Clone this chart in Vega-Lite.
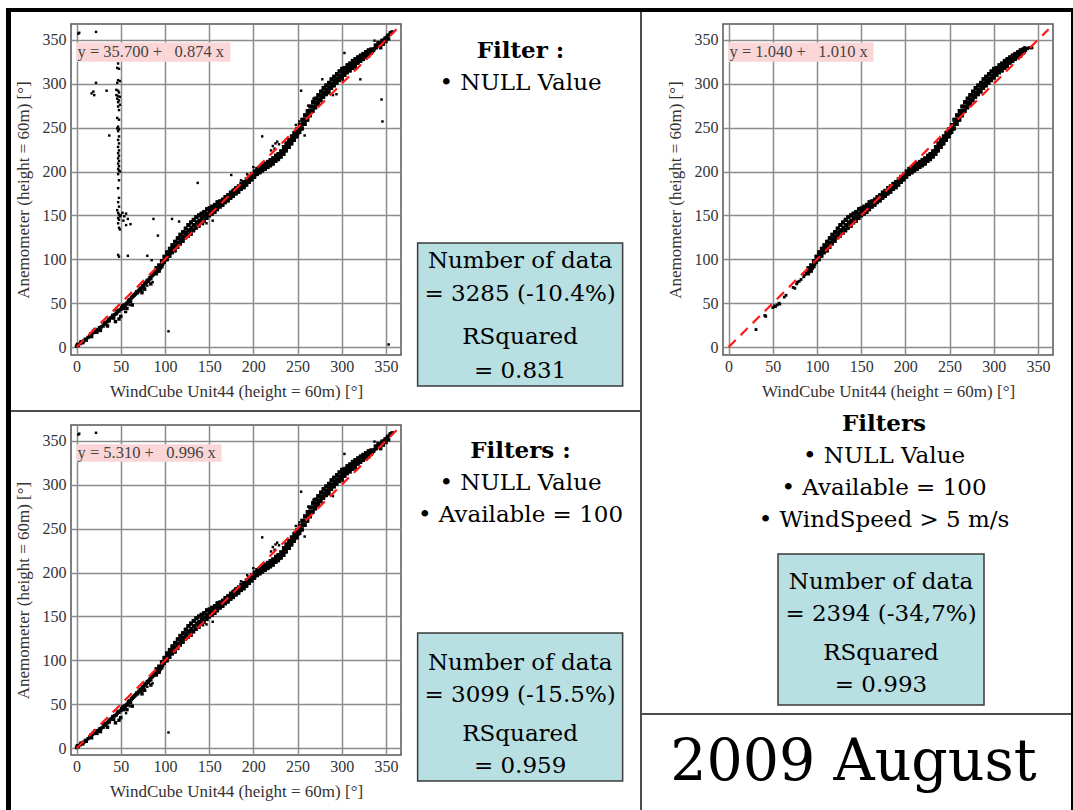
{
"$schema": "https://vega.github.io/schema/vega-lite/v6.json",
"padding": {"left": 6, "top": 8, "right": 0, "bottom": 0},
"background": "white",
"config": {
  "view": {"stroke": null},
  "concat": {"spacing": 0},
  "axis": {"labelFont": "Liberation Serif", "labelFontSize": 16, "labelColor": "#333333", "titleFont": "Liberation Serif", "titleFontSize": 17, "titleFontWeight": "normal", "titleColor": "#333333", "gridColor": "#8c8c8c", "gridWidth": 1.5, "gridOpacity": 1, "ticks": false, "domain": false, "labelFlush": false, "labelOverlap": false},
  "text": {"font": "DejaVu Serif", "color": "#000000"}
},
"datasets": {
  "diag": [{"x":0,"y":0},{"x":362,"y":362}],
  "band": [{"x":90,"y":84},{"x":91,"y":87},{"x":90.5,"y":90},{"x":93,"y":87},{"x":94,"y":90},{"x":93.5,"y":93},{"x":96,"y":92},{"x":97,"y":95},{"x":96.5,"y":98},{"x":99,"y":97},{"x":100,"y":100},{"x":99.5,"y":103},{"x":102,"y":100},{"x":103,"y":104},{"x":102.5,"y":108},{"x":105,"y":104},{"x":106,"y":108},{"x":105.5,"y":112},{"x":108,"y":108},{"x":109,"y":112},{"x":108.5,"y":116},{"x":111,"y":110},{"x":112,"y":115},{"x":111.5,"y":120},{"x":114,"y":114},{"x":115,"y":119},{"x":114.5,"y":124},{"x":117,"y":118},{"x":118,"y":123},{"x":117.5,"y":128},{"x":120,"y":121},{"x":121,"y":126},{"x":120.5,"y":131},{"x":123,"y":125},{"x":124,"y":130},{"x":123.5,"y":135},{"x":126,"y":127},{"x":127,"y":133},{"x":126.5,"y":139},{"x":129,"y":130},{"x":130,"y":136},{"x":129.5,"y":142},{"x":132,"y":133},{"x":133,"y":139},{"x":132.5,"y":145},{"x":135,"y":136},{"x":136,"y":142},{"x":135.5,"y":148},{"x":138,"y":138},{"x":139,"y":144},{"x":138.5,"y":150},{"x":141,"y":142},{"x":142,"y":147},{"x":141.5,"y":152},{"x":144,"y":144},{"x":145,"y":149},{"x":144.5,"y":154},{"x":147,"y":147},{"x":148,"y":152},{"x":147.5,"y":157},{"x":150,"y":150},{"x":151,"y":154},{"x":150.5,"y":158},{"x":153,"y":152},{"x":154,"y":156},{"x":153.5,"y":160},{"x":156,"y":154},{"x":157,"y":158},{"x":156.5,"y":162},{"x":159,"y":157},{"x":160,"y":161},{"x":159.5,"y":165},{"x":162,"y":160},{"x":163,"y":163},{"x":162.5,"y":166},{"x":165,"y":162},{"x":166,"y":165},{"x":165.5,"y":168},{"x":168,"y":165},{"x":169,"y":168},{"x":168.5,"y":171},{"x":171,"y":167},{"x":172,"y":170},{"x":171.5,"y":173},{"x":174,"y":170},{"x":175,"y":173},{"x":174.5,"y":176},{"x":177,"y":172},{"x":178,"y":175},{"x":177.5,"y":178},{"x":180,"y":175},{"x":181,"y":178},{"x":180.5,"y":181},{"x":183,"y":177},{"x":184,"y":180},{"x":183.5,"y":183},{"x":186,"y":180},{"x":187,"y":183},{"x":186.5,"y":186},{"x":189,"y":182},{"x":190,"y":185},{"x":189.5,"y":188},{"x":192,"y":185},{"x":193,"y":188},{"x":192.5,"y":191},{"x":195,"y":188},{"x":196,"y":191},{"x":195.5,"y":194},{"x":198,"y":191},{"x":199,"y":194},{"x":198.5,"y":197},{"x":201,"y":194},{"x":202,"y":197},{"x":201.5,"y":200},{"x":204,"y":197},{"x":205,"y":200},{"x":204.5,"y":203},{"x":207,"y":199},{"x":208,"y":202},{"x":207.5,"y":205},{"x":210,"y":201},{"x":211,"y":204},{"x":210.5,"y":207},{"x":213,"y":203},{"x":214,"y":206},{"x":213.5,"y":209},{"x":216,"y":205},{"x":217,"y":208},{"x":216.5,"y":211},{"x":219,"y":207},{"x":220,"y":210},{"x":219.5,"y":213},{"x":222,"y":209},{"x":223,"y":212},{"x":222.5,"y":215},{"x":225,"y":212},{"x":226,"y":215},{"x":225.5,"y":218},{"x":228,"y":214},{"x":229,"y":217},{"x":228.5,"y":220},{"x":231,"y":217},{"x":232,"y":220},{"x":231.5,"y":223},{"x":234,"y":220},{"x":235,"y":224},{"x":234.5,"y":228},{"x":237,"y":224},{"x":238,"y":228},{"x":237.5,"y":232},{"x":240,"y":228},{"x":241,"y":232},{"x":240.5,"y":236},{"x":243,"y":232},{"x":244,"y":236},{"x":243.5,"y":240},{"x":246,"y":236},{"x":247,"y":240},{"x":246.5,"y":244},{"x":249,"y":240},{"x":250,"y":244},{"x":249.5,"y":248},{"x":252,"y":245},{"x":253,"y":249},{"x":252.5,"y":253},{"x":255,"y":249},{"x":256,"y":254},{"x":255.5,"y":259},{"x":258,"y":254},{"x":259,"y":259},{"x":258.5,"y":264},{"x":261,"y":259},{"x":262,"y":264},{"x":261.5,"y":269},{"x":264,"y":264},{"x":265,"y":269},{"x":264.5,"y":274},{"x":267,"y":269},{"x":268,"y":274},{"x":267.5,"y":279},{"x":270,"y":273},{"x":271,"y":278},{"x":270.5,"y":283},{"x":273,"y":277},{"x":274,"y":282},{"x":273.5,"y":287},{"x":276,"y":281},{"x":277,"y":286},{"x":276.5,"y":291},{"x":279,"y":285},{"x":280,"y":290},{"x":279.5,"y":295},{"x":282,"y":288},{"x":283,"y":293},{"x":282.5,"y":298},{"x":285,"y":291},{"x":286,"y":296},{"x":285.5,"y":301},{"x":288,"y":295},{"x":289,"y":300},{"x":288.5,"y":305},{"x":291,"y":298},{"x":292,"y":303},{"x":291.5,"y":308},{"x":294,"y":301},{"x":295,"y":306},{"x":294.5,"y":311},{"x":297,"y":304},{"x":298,"y":309},{"x":297.5,"y":314},{"x":300,"y":307},{"x":301,"y":312},{"x":300.5,"y":317},{"x":303,"y":310},{"x":304,"y":314},{"x":303.5,"y":318},{"x":306,"y":313},{"x":307,"y":317},{"x":306.5,"y":321},{"x":309,"y":315},{"x":310,"y":319},{"x":309.5,"y":323},{"x":312,"y":318},{"x":313,"y":322},{"x":312.5,"y":326},{"x":315,"y":320},{"x":316,"y":324},{"x":315.5,"y":328},{"x":318,"y":324},{"x":319,"y":327},{"x":318.5,"y":330},{"x":321,"y":326},{"x":322,"y":329},{"x":321.5,"y":332},{"x":324,"y":328},{"x":325,"y":331},{"x":324.5,"y":334},{"x":327,"y":330},{"x":328,"y":333},{"x":327.5,"y":336},{"x":330,"y":332},{"x":331,"y":335},{"x":330.5,"y":338},{"x":333,"y":335},{"x":334,"y":337},{"x":333.5,"y":339}],
  "lowAB": [{"x":0,"y":1},{"x":1,"y":3},{"x":2,"y":2},{"x":4,"y":4},{"x":5,"y":6},{"x":7,"y":5},{"x":8,"y":7},{"x":10,"y":9},{"x":11,"y":8},{"x":13,"y":11},{"x":15,"y":13},{"x":16,"y":15},{"x":17,"y":12},{"x":18,"y":16},{"x":19,"y":18},{"x":20,"y":17},{"x":21,"y":20},{"x":22,"y":19},{"x":23,"y":17},{"x":25,"y":20},{"x":26,"y":22},{"x":27,"y":19},{"x":28,"y":23},{"x":30,"y":24},{"x":31,"y":26},{"x":32,"y":28},{"x":33,"y":27},{"x":35,"y":29},{"x":36,"y":31},{"x":37,"y":30},{"x":38,"y":33},{"x":40,"y":34},{"x":41,"y":36},{"x":42,"y":33},{"x":43,"y":37},{"x":45,"y":38},{"x":46,"y":40},{"x":47,"y":42},{"x":48,"y":41},{"x":50,"y":43},{"x":51,"y":45},{"x":52,"y":47},{"x":53,"y":44},{"x":54,"y":48},{"x":55,"y":46},{"x":56,"y":49},{"x":57,"y":50},{"x":58,"y":51},{"x":59,"y":53},{"x":60,"y":54},{"x":61,"y":52},{"x":62,"y":56},{"x":63,"y":57},{"x":64,"y":58},{"x":65,"y":59},{"x":66,"y":60},{"x":67,"y":61},{"x":68,"y":63},{"x":69,"y":62},{"x":70,"y":64},{"x":71,"y":65},{"x":72,"y":67},{"x":73,"y":66},{"x":74,"y":68},{"x":75,"y":70},{"x":76,"y":69},{"x":77,"y":72},{"x":78,"y":73},{"x":79,"y":74},{"x":80,"y":76},{"x":81,"y":75},{"x":82,"y":77},{"x":83,"y":79},{"x":84,"y":78},{"x":85,"y":81},{"x":86,"y":82},{"x":87,"y":83},{"x":88,"y":85},{"x":89,"y":86},{"x":44,"y":29},{"x":48,"y":32},{"x":50,"y":35},{"x":57,"y":44},{"x":74,"y":62},{"x":77,"y":66},{"x":84,"y":72},{"x":63,"y":48},{"x":35,"y":24}],
  "highAB": [{"x":336,"y":338},{"x":337,"y":340},{"x":339,"y":341},{"x":340,"y":343},{"x":342,"y":344},{"x":343,"y":346},{"x":345,"y":347},{"x":346,"y":349},{"x":348,"y":350},{"x":349,"y":352},{"x":351,"y":353},{"x":352,"y":355},{"x":354,"y":356},{"x":355,"y":358},{"x":357,"y":359},{"x":344,"y":341},{"x":347,"y":345},{"x":350,"y":348},{"x":338,"y":344},{"x":341,"y":347},{"x":353,"y":351}],
  "outAB": [{"x":2,"y":357},{"x":3,"y":358},{"x":22,"y":359},{"x":104,"y":18},{"x":303,"y":335},{"x":254,"y":292},{"x":301,"y":304},{"x":290,"y":287},{"x":258,"y":241},{"x":210,"y":240},{"x":154,"y":144},{"x":86,"y":74},{"x":220,"y":224},{"x":222,"y":229},{"x":225,"y":232},{"x":227,"y":234},{"x":229,"y":231},{"x":224,"y":226},{"x":200,"y":205},{"x":193,"y":197},{"x":147,"y":141},{"x":143,"y":140},{"x":130,"y":128},{"x":128,"y":140},{"x":262,"y":275},{"x":268,"y":283},{"x":273,"y":278},{"x":285,"y":289},{"x":308,"y":322},{"x":316,"y":317},{"x":337,"y":349},{"x":345,"y":350},{"x":56,"y":40},{"x":60,"y":48},{"x":80,"y":70},{"x":17,"y":13},{"x":252,"y":257},{"x":248,"y":253},{"x":241,"y":227},{"x":186,"y":190},{"x":178,"y":180}],
  "outA": [{"x":47,"y":323},{"x":46,"y":318},{"x":48,"y":317},{"x":47,"y":304},{"x":49,"y":303},{"x":46,"y":301},{"x":45,"y":293},{"x":47,"y":292},{"x":48,"y":290},{"x":45,"y":287},{"x":47,"y":286},{"x":49,"y":285},{"x":46,"y":283},{"x":48,"y":281},{"x":47,"y":279},{"x":49,"y":276},{"x":47,"y":274},{"x":48,"y":270},{"x":46,"y":261},{"x":48,"y":259},{"x":47,"y":251},{"x":46,"y":249},{"x":48,"y":248},{"x":47,"y":246},{"x":48,"y":240},{"x":47,"y":236},{"x":48,"y":232},{"x":47,"y":228},{"x":48,"y":224},{"x":47,"y":221},{"x":48,"y":218},{"x":47,"y":215},{"x":48,"y":212},{"x":47,"y":209},{"x":48,"y":206},{"x":47,"y":203},{"x":48,"y":201},{"x":49,"y":200},{"x":47,"y":197},{"x":48,"y":190},{"x":47,"y":181},{"x":48,"y":170},{"x":47,"y":165},{"x":48,"y":160},{"x":46,"y":156},{"x":47,"y":153},{"x":48,"y":151},{"x":49,"y":149},{"x":47,"y":147},{"x":48,"y":145},{"x":50,"y":150},{"x":52,"y":153},{"x":54,"y":149},{"x":56,"y":152},{"x":58,"y":146},{"x":53,"y":144},{"x":47,"y":141},{"x":48,"y":136},{"x":49,"y":134},{"x":47,"y":105},{"x":48,"y":103},{"x":58,"y":104},{"x":61,"y":140},{"x":56,"y":139},{"x":19,"y":291},{"x":17,"y":289},{"x":20,"y":287},{"x":34,"y":292},{"x":22,"y":301},{"x":37,"y":241},{"x":80,"y":104},{"x":85,"y":99},{"x":87,"y":146},{"x":92,"y":127},{"x":108,"y":146},{"x":116,"y":143},{"x":137,"y":187},{"x":175,"y":196},{"x":345,"y":282},{"x":346,"y":257},{"x":353,"y":3},{"x":321,"y":305},{"x":294,"y":288},{"x":278,"y":305},{"x":43,"y":42},{"x":55,"y":40}],
  "lowC": [{"x":31,"y":20},{"x":41,"y":36},{"x":42,"y":35},{"x":50,"y":45},{"x":52,"y":47},{"x":53,"y":46},{"x":55,"y":48},{"x":57,"y":50},{"x":58,"y":49},{"x":63,"y":57},{"x":65,"y":59},{"x":73,"y":68},{"x":75,"y":67},{"x":77,"y":72},{"x":78,"y":74},{"x":80,"y":75},{"x":82,"y":77},{"x":85,"y":80},{"x":86,"y":82},{"x":88,"y":84}],
  "highC": [{"x":336,"y":338},{"x":338,"y":340},{"x":340,"y":341},{"x":343,"y":341},{"x":335,"y":341}]
},
"spacing": 0,
"vconcat": [
  {"width": 1067, "height": 4, "data": {"values": []}, "mark": "text", "view": {"fill": "#000000", "stroke": null}},
  {"spacing": 0, "hconcat": [
    {"width": 5, "height": 798, "data": {"values": []}, "mark": "text", "view": {"fill": "#000000", "stroke": null}},
    {"spacing": 0, "vconcat": [
      {"spacing": 0, "hconcat": [
        {"width": 1.8, "height": 398, "data": {"values": []}, "mark": "text"},
        {"spacing": 0, "vconcat": [
          {"width": 1, "height": 11, "data": {"values": []}, "mark": "text"},
          {"width": 330, "height": 331,
           "view": {"stroke": "#555555", "strokeWidth": 1.5},
           "layer": [
             {"data": {"name": "band"}, "mark": {"type": "square", "size": 15, "color": "#000000", "opacity": 1},
              "encoding": {
                "x": {"field": "x", "type": "quantitative", "scale": {"domain": [-6.3, 367], "nice": false, "zero": false}, "axis": {"title": "WindCube Unit44 (height = 60m) [°]", "values": [0,50,100,150,200,250,300,350], "grid": true, "labelPadding": 3, "titlePadding": 9}},
                "y": {"field": "y", "type": "quantitative", "scale": {"domain": [-9, 368], "nice": false, "zero": false}, "axis": {"title": "Anemometer (height = 60m) [°]", "values": [0,50,100,150,200,250,300,350], "grid": true, "labelPadding": 5, "titlePadding": 10}}
              }},
             {"data": {"values": [{}]}, "mark": {"type": "rect", "color": "#fbd6d7"}, "encoding": {"x": {"datum": 0, "type": "quantitative"}, "x2": {"datum": 174}, "y": {"datum": 325, "type": "quantitative"}, "y2": {"datum": 347}}},
             {"data": {"values": [{}]}, "mark": {"type": "text", "text": "y = 35.700 +\u00a0\u00a0 0.874 x", "font": "Liberation Serif", "fontSize": 16.5, "color": "#444444", "align": "left", "baseline": "middle", "dx": 1}, "encoding": {"x": {"datum": 0, "type": "quantitative"}, "y": {"datum": 336, "type": "quantitative"}}},
             {"data": {"name": "band"}, "mark": {"type": "square", "size": 15, "color": "#000000", "opacity": 1}, "encoding": {"x": {"field": "x", "type": "quantitative"}, "y": {"field": "y", "type": "quantitative"}}},
             {"data": {"name": "lowAB"}, "mark": {"type": "square", "size": 12, "color": "#000000", "opacity": 1}, "encoding": {"x": {"field": "x", "type": "quantitative"}, "y": {"field": "y", "type": "quantitative"}}},
             {"data": {"name": "highAB"}, "mark": {"type": "square", "size": 12, "color": "#000000", "opacity": 1}, "encoding": {"x": {"field": "x", "type": "quantitative"}, "y": {"field": "y", "type": "quantitative"}}},
             {"data": {"name": "outAB"}, "mark": {"type": "square", "size": 6, "color": "#000000", "opacity": 1}, "encoding": {"x": {"field": "x", "type": "quantitative"}, "y": {"field": "y", "type": "quantitative"}}},
             {"data": {"name": "outA"}, "mark": {"type": "square", "size": 6, "color": "#000000", "opacity": 1}, "encoding": {"x": {"field": "x", "type": "quantitative"}, "y": {"field": "y", "type": "quantitative"}}},
             {"data": {"name": "diag"}, "mark": {"type": "line", "color": "#ff1a1a", "strokeWidth": 2.2, "strokeDash": [10, 7]}, "encoding": {"x": {"field": "x", "type": "quantitative"}, "y": {"field": "y", "type": "quantitative"}}}
           ]
          }
        ]},
        {"spacing": 0, "center": true, "vconcat": [
          {"width": 1, "height": 23, "data": {"values": []}, "mark": "text"},
          {"width": 237, "height": 32, "data": {"values": [{}]}, "mark": {"type": "text", "text": "Filter :", "fontSize": 23, "fontWeight": "bold"}},
          {"width": 237, "height": 32, "data": {"values": [{}]}, "mark": {"type": "text", "text": "• NULL Value", "fontSize": 23}},
          {"width": 1, "height": 143, "data": {"values": []}, "mark": "text"},
          {"width": 205, "height": 143, "data": {"values": [{}]}, "view": {"fill": "#b8dfe2", "stroke": "#3a3a3a", "strokeWidth": 1.5},
           "layer": [
             {"mark": {"type": "text", "text": "Number of data", "fontSize": 23, "dy": -53.5}},
             {"mark": {"type": "text", "text": "= 3285 (-10.4%)", "fontSize": 23, "dy": -20.5}},
             {"mark": {"type": "text", "text": "RSquared", "fontSize": 23, "dy": 22.5}},
             {"mark": {"type": "text", "text": "= 0.831", "fontSize": 23, "dy": 56.5}}
           ]}
        ]}
      ]},
      {"width": 629, "height": 2, "data": {"values": []}, "mark": "text", "view": {"fill": "#4d4d4d", "stroke": null}},
      {"spacing": 0, "hconcat": [
        {"width": 1.8, "height": 398, "data": {"values": []}, "mark": "text"},
        {"spacing": 0, "vconcat": [
          {"width": 1, "height": 12, "data": {"values": []}, "mark": "text"},
          {"width": 330, "height": 330,
           "view": {"stroke": "#555555", "strokeWidth": 1.5},
           "layer": [
             {"data": {"name": "band"}, "mark": {"type": "square", "size": 15, "color": "#000000", "opacity": 1},
              "encoding": {
                "x": {"field": "x", "type": "quantitative", "scale": {"domain": [-6.3, 367], "nice": false, "zero": false}, "axis": {"title": "WindCube Unit44 (height = 60m) [°]", "values": [0,50,100,150,200,250,300,350], "grid": true, "labelPadding": 3, "titlePadding": 9}},
                "y": {"field": "y", "type": "quantitative", "scale": {"domain": [-7.6, 367.9], "nice": false, "zero": false}, "axis": {"title": "Anemometer (height = 60m) [°]", "values": [0,50,100,150,200,250,300,350], "grid": true, "labelPadding": 5, "titlePadding": 10}}
              }},
             {"data": {"values": [{}]}, "mark": {"type": "rect", "color": "#fbd6d7"}, "encoding": {"x": {"datum": 0, "type": "quantitative"}, "x2": {"datum": 164}, "y": {"datum": 326, "type": "quantitative"}, "y2": {"datum": 346}}},
             {"data": {"values": [{}]}, "mark": {"type": "text", "text": "y = 5.310 +\u00a0\u00a0 0.996 x", "font": "Liberation Serif", "fontSize": 16.5, "color": "#444444", "align": "left", "baseline": "middle", "dx": 1}, "encoding": {"x": {"datum": 0, "type": "quantitative"}, "y": {"datum": 336, "type": "quantitative"}}},
             {"data": {"name": "band"}, "mark": {"type": "square", "size": 15, "color": "#000000", "opacity": 1}, "encoding": {"x": {"field": "x", "type": "quantitative"}, "y": {"field": "y", "type": "quantitative"}}},
             {"data": {"name": "lowAB"}, "mark": {"type": "square", "size": 12, "color": "#000000", "opacity": 1}, "encoding": {"x": {"field": "x", "type": "quantitative"}, "y": {"field": "y", "type": "quantitative"}}},
             {"data": {"name": "highAB"}, "mark": {"type": "square", "size": 12, "color": "#000000", "opacity": 1}, "encoding": {"x": {"field": "x", "type": "quantitative"}, "y": {"field": "y", "type": "quantitative"}}},
             {"data": {"name": "outAB"}, "mark": {"type": "square", "size": 6, "color": "#000000", "opacity": 1}, "encoding": {"x": {"field": "x", "type": "quantitative"}, "y": {"field": "y", "type": "quantitative"}}},
             {"data": {"name": "diag"}, "mark": {"type": "line", "color": "#ff1a1a", "strokeWidth": 2.2, "strokeDash": [10, 7]}, "encoding": {"x": {"field": "x", "type": "quantitative"}, "y": {"field": "y", "type": "quantitative"}}}
           ]
          }
        ]},
        {"spacing": 0, "center": true, "vconcat": [
          {"width": 1, "height": 23, "data": {"values": []}, "mark": "text"},
          {"width": 237, "height": 32, "data": {"values": [{}]}, "mark": {"type": "text", "text": "Filters :", "fontSize": 23, "fontWeight": "bold"}},
          {"width": 237, "height": 32, "data": {"values": [{}]}, "mark": {"type": "text", "text": "• NULL Value", "fontSize": 23}},
          {"width": 237, "height": 32, "data": {"values": [{}]}, "mark": {"type": "text", "text": "• Available = 100", "fontSize": 23}},
          {"width": 1, "height": 101, "data": {"values": []}, "mark": "text"},
          {"width": 205, "height": 148, "data": {"values": [{}]}, "view": {"fill": "#b8dfe2", "stroke": "#3a3a3a", "strokeWidth": 1.5},
           "layer": [
             {"mark": {"type": "text", "text": "Number of data", "fontSize": 23, "dy": -44}},
             {"mark": {"type": "text", "text": "= 3099 (-15.5%)", "fontSize": 23, "dy": -12}},
             {"mark": {"type": "text", "text": "RSquared", "fontSize": 23, "dy": 27}},
             {"mark": {"type": "text", "text": "= 0.959", "fontSize": 23, "dy": 59}}
           ]}
        ]}
      ]}
    ]},
    {"width": 2, "height": 798, "data": {"values": []}, "mark": "text", "view": {"fill": "#4d4d4d", "stroke": null}},
    {"spacing": 0, "vconcat": [
      {"spacing": 0, "vconcat": [
        {"spacing": 0, "hconcat": [
          {"width": 22.8, "height": 396, "data": {"values": []}, "mark": "text"},
          {"spacing": 0, "vconcat": [
            {"width": 1, "height": 11, "data": {"values": []}, "mark": "text"},
            {"width": 330, "height": 331,
             "view": {"stroke": "#555555", "strokeWidth": 1.5},
             "layer": [
               {"data": {"name": "band"}, "mark": {"type": "square", "size": 15, "color": "#000000", "opacity": 1},
                "encoding": {
                  "x": {"field": "x", "type": "quantitative", "scale": {"domain": [-6.3, 367], "nice": false, "zero": false}, "axis": {"title": "WindCube Unit44 (height = 60m) [°]", "values": [0,50,100,150,200,250,300,350], "grid": true, "labelPadding": 3, "titlePadding": 9}},
                  "y": {"field": "y", "type": "quantitative", "scale": {"domain": [-9, 368], "nice": false, "zero": false}, "axis": {"title": "Anemometer (height = 60m) [°]", "values": [0,50,100,150,200,250,300,350], "grid": true, "labelPadding": 5, "titlePadding": 10}}
                }},
               {"data": {"values": [{}]}, "mark": {"type": "rect", "color": "#fbd6d7"}, "encoding": {"x": {"datum": 0, "type": "quantitative"}, "x2": {"datum": 164}, "y": {"datum": 325, "type": "quantitative"}, "y2": {"datum": 347}}},
               {"data": {"values": [{}]}, "mark": {"type": "text", "text": "y = 1.040 +\u00a0\u00a0 1.010 x", "font": "Liberation Serif", "fontSize": 16.5, "color": "#444444", "align": "left", "baseline": "middle", "dx": 1}, "encoding": {"x": {"datum": 0, "type": "quantitative"}, "y": {"datum": 336, "type": "quantitative"}}},
               {"data": {"name": "band"}, "mark": {"type": "square", "size": 15, "color": "#000000", "opacity": 1}, "encoding": {"x": {"field": "x", "type": "quantitative"}, "y": {"field": "y", "type": "quantitative"}}},
               {"data": {"name": "lowC"}, "mark": {"type": "square", "size": 8, "color": "#000000", "opacity": 1}, "encoding": {"x": {"field": "x", "type": "quantitative"}, "y": {"field": "y", "type": "quantitative"}}},
               {"data": {"name": "highC"}, "mark": {"type": "square", "size": 10, "color": "#000000", "opacity": 1}, "encoding": {"x": {"field": "x", "type": "quantitative"}, "y": {"field": "y", "type": "quantitative"}}},
               {"data": {"name": "diag"}, "mark": {"type": "line", "color": "#ff1a1a", "strokeWidth": 2.2, "strokeDash": [10, 7]}, "encoding": {"x": {"field": "x", "type": "quantitative"}, "y": {"field": "y", "type": "quantitative"}}}
             ]
            }
          ]}
        ]},
        {"spacing": 0, "hconcat": [
          {"width": 92, "height": 32, "data": {"values": []}, "mark": "text"},
          {"width": 300, "height": 32, "data": {"values": [{}]}, "mark": {"type": "text", "text": "Filters", "fontSize": 23, "fontWeight": "bold"}}
        ]},
        {"spacing": 0, "hconcat": [
          {"width": 92, "height": 32, "data": {"values": []}, "mark": "text"},
          {"width": 300, "height": 32, "data": {"values": [{}]}, "mark": {"type": "text", "text": "• NULL Value", "fontSize": 23}}
        ]},
        {"spacing": 0, "hconcat": [
          {"width": 92, "height": 32, "data": {"values": []}, "mark": "text"},
          {"width": 300, "height": 32, "data": {"values": [{}]}, "mark": {"type": "text", "text": "• Available = 100", "fontSize": 23}}
        ]},
        {"spacing": 0, "hconcat": [
          {"width": 92, "height": 32, "data": {"values": []}, "mark": "text"},
          {"width": 300, "height": 32, "data": {"values": [{}]}, "mark": {"type": "text", "text": "• WindSpeed > 5 m/s", "fontSize": 23}}
        ]},
        {"width": 1, "height": 17, "data": {"values": []}, "mark": "text"},
        {"spacing": 0, "hconcat": [
          {"width": 135, "height": 1, "data": {"values": []}, "mark": "text"},
          {"width": 206, "height": 151, "data": {"values": [{}]}, "view": {"fill": "#b8dfe2", "stroke": "#3a3a3a", "strokeWidth": 1.5},
           "layer": [
             {"mark": {"type": "text", "text": "Number of data", "fontSize": 23, "dy": -47.5}},
             {"mark": {"type": "text", "text": "= 2394 (-34,7%)", "fontSize": 23, "dy": -15.5}},
             {"mark": {"type": "text", "text": "RSquared", "fontSize": 23, "dy": 23.5}},
             {"mark": {"type": "text", "text": "= 0.993", "fontSize": 23, "dy": 55.5}}
           ]}
        ]},
        {"width": 1, "height": 6.5, "data": {"values": []}, "mark": "text"}
      ]},
      {"width": 429, "height": 2, "data": {"values": []}, "mark": "text", "view": {"fill": "#4d4d4d", "stroke": null}},
      {"width": 429, "height": 96, "data": {"values": [{}]}, "mark": {"type": "text", "text": "2009 August", "fontSize": 57, "dx": -3}}
    ]},
    {"width": 2, "height": 798, "data": {"values": []}, "mark": "text", "view": {"fill": "#000000", "stroke": null}}
  ]}
]
}
